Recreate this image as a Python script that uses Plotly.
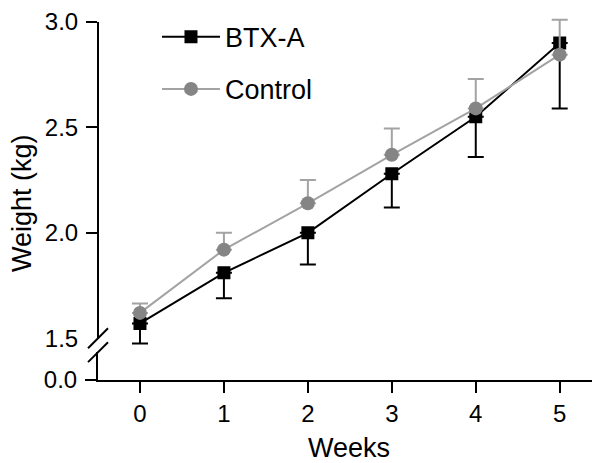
import plotly.graph_objects as go

weeks = [0, 1, 2, 3, 4, 5]
btx = [1.57, 1.81, 2.00, 2.28, 2.55, 2.90]
btx_err = [0.095, 0.12, 0.15, 0.16, 0.19, 0.31]
ctrl = [1.62, 1.92, 2.14, 2.37, 2.59, 2.845]
ctrl_err = [0.045, 0.08, 0.11, 0.125, 0.14, 0.165]
zeros = [0] * 6

y_ticks_upper = [1.5, 2.0, 2.5, 3.0]
y_ticks_upper_text = ["1.5", "2.0", "2.5", "3.0"]

FONT = "Liberation Sans, Arial, sans-serif"
BLACK = "#000000"
GRAY_M = "#858585"
GRAY_L = "#a3a3a3"
TICK_SIZE = 24
TITLE_SIZE = 27

fig = go.Figure()
fig.add_trace(go.Scatter(
    x=weeks, y=btx, name="BTX-A", mode="lines+markers",
    line=dict(color=BLACK, width=2),
    marker=dict(symbol="square", size=13, color=BLACK),
    error_y=dict(type="data", symmetric=False, array=zeros, arrayminus=btx_err,
                 color=BLACK, thickness=2, width=8),
    legendgroup="a",
))
fig.add_trace(go.Scatter(
    x=weeks, y=ctrl, name="Control", mode="lines+markers",
    line=dict(color=GRAY_L, width=2),
    marker=dict(symbol="circle", size=14, color=GRAY_M),
    error_y=dict(type="data", symmetric=False, array=ctrl_err, arrayminus=zeros,
                 color=GRAY_L, thickness=2, width=8),
    legendgroup="b",
))
# empty trace to create the lower (broken) subplot
fig.add_trace(go.Scatter(x=[], y=[], xaxis="x", yaxis="y2", showlegend=False))

H = 370.0
up_bottom = 32 / H
low_top = 28 / H
fig.update_layout(
    width=592, height=455,
    margin=dict(l=90, r=0, t=2, b=83),
    paper_bgcolor="white", plot_bgcolor="white",
    font=dict(family=FONT, size=TICK_SIZE, color=BLACK),
    showlegend=True,
    legend=dict(x=0.1175, y=0.998, xanchor="left", yanchor="top",
                bgcolor="rgba(0,0,0,0)", borderwidth=0,
                traceorder="grouped", tracegroupgap=14,
                itemwidth=58,
                font=dict(family=FONT, size=TITLE_SIZE, color=BLACK)),
    xaxis=dict(
        domain=[0, 1], anchor="y2", range=[-0.5, 5.48],
        tickvals=weeks, ticks="outside", ticklen=11, tickwidth=2, tickcolor=BLACK,
        showline=True, linewidth=2, linecolor=BLACK,
        showgrid=False, zeroline=False,
        title=dict(text="Weeks", font=dict(size=TITLE_SIZE), standoff=14),
        tickfont=dict(size=TICK_SIZE),
        ticklabeloverflow="allow",
    ),
    yaxis=dict(
        domain=[up_bottom, 1], anchor="x",
        range=[3.0 - 328 / 212, 3.0 + 10 / 212],
        tickvals=y_ticks_upper, ticktext=y_ticks_upper_text,
        ticks="outside", ticklen=11, tickwidth=2, tickcolor="rgba(0,0,0,0)",
        minor=dict(tickmode="array", tickvals=[2.0, 2.5, 3.0], ticks="outside",
                   ticklen=11, tickwidth=2, tickcolor=BLACK, showgrid=False),
        showline=False, showgrid=False, zeroline=False,
        tickfont=dict(size=TICK_SIZE),
        ticklabelstandoff=3,
        ticklabeloverflow="allow",
    ),
    yaxis2=dict(
        domain=[0, low_top], anchor="x",
        range=[0, 28 / 212],
        tickvals=[0], ticktext=["0.0"],
        ticks="outside", ticklen=11, tickwidth=2, tickcolor=BLACK,
        showline=True, linewidth=2, linecolor=BLACK,
        showgrid=False, zeroline=False,
        tickfont=dict(size=TICK_SIZE),
        ticklabelstandoff=3,
        ticklabeloverflow="allow",
    ),
)

# upper axis line (from 1.5 to 3.0)
fig.add_shape(type="line", xref="paper", yref="y", x0=0, x1=0, y0=1.5, y1=3.0,
              line=dict(color=BLACK, width=2), layer="above")
# break marks
for cy in [338, 352]:
    yc = (380 - cy) / H
    fig.add_shape(type="line", xref="paper", yref="paper",
                  x0=-10 / 502, x1=10 / 502, y0=yc - 10 / H, y1=yc + 10 / H,
                  line=dict(color=BLACK, width=2), layer="above")

fig.add_annotation(text="Weight (kg)", xref="paper", yref="paper",
                   x=(22 - 98) / 502, y=(380 - 202) / H, textangle=-90,
                   showarrow=False, font=dict(family=FONT, size=TITLE_SIZE, color=BLACK),
                   xanchor="center", yanchor="middle")

fig.write_html("out.html")
